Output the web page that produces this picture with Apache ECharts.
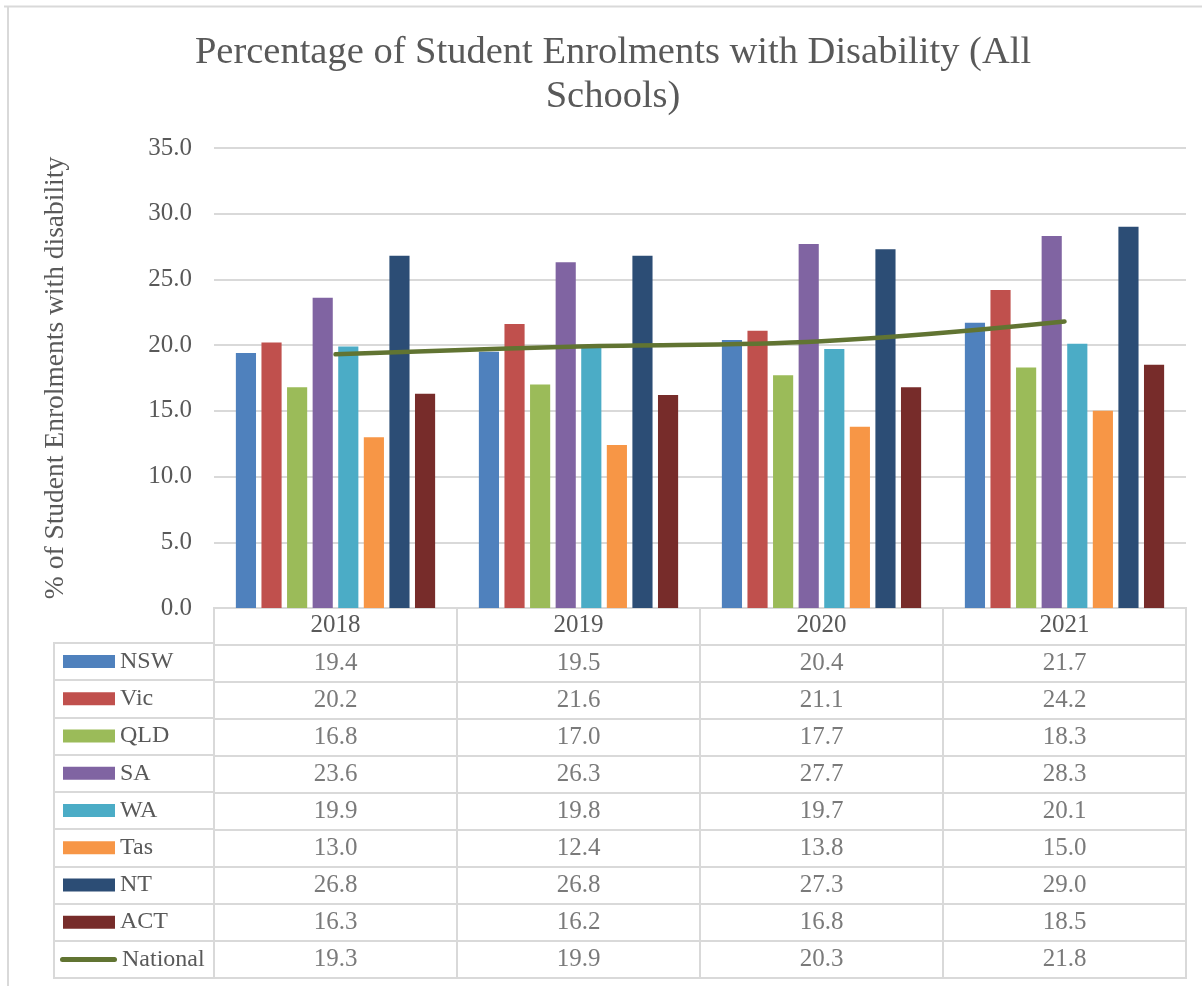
<!DOCTYPE html>
<html>
<head>
<meta charset="utf-8">
<script src="https://cdn.jsdelivr.net/npm/echarts@6/dist/echarts.min.js"></script>
<style>
html,body{margin:0;padding:0;background:#fff;}
#chart{width:1202px;height:986px;}
</style>
</head>
<body>
<div id="chart"></div>
<script>
const years = ['2018', '2019', '2020', '2021'];
const seriesNames = ['NSW', 'Vic', 'QLD', 'SA', 'WA', 'Tas', 'NT', 'ACT', 'National'];
const NSW = [19.4, 19.5, 20.4, 21.7];
const Vic = [20.2, 21.6, 21.1, 24.2];
const QLD = [16.8, 17.0, 17.7, 18.3];
const SA = [23.6, 26.3, 27.7, 28.3];
const WA = [19.9, 19.8, 19.7, 20.1];
const Tas = [13.0, 12.4, 13.8, 15.0];
const NT = [26.8, 26.8, 27.3, 29.0];
const ACT = [16.3, 16.2, 16.8, 18.5];
const National = [19.3, 19.9, 20.3, 21.8];
const yTicks = [0, 5, 10, 15, 20, 25, 30, 35];

const values = [NSW, Vic, QLD, SA, WA, Tas, NT, ACT, National];
const colors = ['#4f81bd', '#c0504d', '#9bbb59', '#8064a2', '#4bacc6', '#f79646', '#2c4d75', '#772c2a', '#617432'];
const FONT = 'Liberation Serif';
const TXT = '#595959';
const LINE = '#d9d9d9';

const chart = echarts.init(document.getElementById('chart'));

const series = [];
for (let i = 0; i < 8; i++) {
  series.push({
    name: seriesNames[i], type: 'bar', xAxisIndex: 0, yAxisIndex: 0,
    data: values[i], itemStyle: { color: colors[i] },
    barGap: '27%', barCategoryGap: '18%', silent: true
  });
}
series.push({
  name: 'National', type: 'line', xAxisIndex: 0, yAxisIndex: 0,
  data: National, smooth: 0.4, showSymbol: false, symbol: 'none',
  lineStyle: { color: colors[8], width: 4.5, cap: 'round' }, silent: true, z: 5
});

// table cells
const cellData = [];
for (let r = 0; r < 9; r++) {
  for (let c = 0; c < years.length; c++) {
    cellData.push([years[c], seriesNames[r], values[r][c]]);
  }
}
series.push({
  type: 'scatter', xAxisIndex: 1, yAxisIndex: 1, data: cellData,
  symbolSize: 1, itemStyle: { color: 'rgba(0,0,0,0)' }, silent: true,
  label: {
    show: true, position: 'inside', color: TXT, fontFamily: FONT, fontSize: 25,
    formatter: p => p.value[2].toFixed(1)
  }
});

const rich = { n: { fontFamily: FONT, fontSize: 24, color: TXT, padding: [0, 0, 0, 5] }, s: { width: 3 } };
seriesNames.forEach((n, i) => {
  if (i < 8) {
    rich['k' + i] = { width: 52, height: 13, backgroundColor: colors[i] };
  } else {
    rich['k' + i] = { width: 57, height: 5, backgroundColor: colors[i], borderRadius: 3 };
  }
});

const option = {
  animation: false,
  backgroundColor: '#fff',
  title: {
    text: 'Percentage of Student Enrolments with Disability (All\nSchools)',
    left: 608, top: 26, textAlign: 'center',
    textStyle: { fontFamily: FONT, fontSize: 38.5, fontWeight: 'normal', color: TXT, lineHeight: 44 }
  },
  grid: [
    { left: 214, right: 16, top: 148, bottom: 378 },
    { left: 214, right: 16, top: 608, bottom: 8, show: true, borderColor: LINE, borderWidth: 2 },
    { left: 54, width: 160, top: 643, bottom: 8, show: true, borderColor: LINE, borderWidth: 2 }
  ],
  xAxis: [
    {
      type: 'category', gridIndex: 0, data: years,
      axisLine: { show: false }, axisTick: { show: false },
      axisLabel: { fontFamily: FONT, fontSize: 25, color: TXT, margin: 5 }
    },
    {
      type: 'category', gridIndex: 1, data: years,
      axisLine: { show: false }, axisTick: { show: false }, axisLabel: { show: false },
      splitLine: { show: true, interval: 0, lineStyle: { color: LINE, width: 2 } }
    },
    {
      type: 'value', gridIndex: 2, min: 0, max: 1, show: false
    }
  ],
  yAxis: [
    {
      type: 'value', gridIndex: 0, min: 0, max: 35, interval: 5,
      axisLine: { show: false }, axisTick: { show: false },
      axisLabel: { fontFamily: FONT, fontSize: 25, color: TXT, margin: 22, formatter: v => v.toFixed(1) },
      splitLine: { lineStyle: { color: LINE, width: 2 } },
      name: '% of Student Enrolments with disability', nameLocation: 'middle', nameGap: 144, nameRotate: 90,
      nameTextStyle: { fontFamily: FONT, fontSize: 27.5, color: TXT }
    },
    {
      type: 'category', gridIndex: 1, data: [''].concat(seriesNames), inverse: true,
      axisLine: { show: false }, axisTick: { show: false }, axisLabel: { show: false },
      splitLine: { show: true, interval: 0, lineStyle: { color: LINE, width: 2 } }
    },
    {
      type: 'category', gridIndex: 2, data: seriesNames, inverse: true,
      axisLine: { show: false }, axisTick: { show: false },
      axisLabel: {
        inside: true, margin: 6, align: 'left',
        formatter: (v, i) => (i < 8 ? '{s|}' : '') + '{k' + i + '|}{n|' + v + '}',
        rich: rich
      },
      splitLine: { show: true, interval: 0, lineStyle: { color: LINE, width: 2 } }
    }
  ],
  graphic: [
    { type: 'line', shape: { x1: 4, y1: 6.5, x2: 1202, y2: 6.5 }, style: { stroke: LINE, lineWidth: 2 }, silent: true },
    { type: 'line', shape: { x1: 8, y1: 6, x2: 8, y2: 986 }, style: { stroke: LINE, lineWidth: 2 }, silent: true }
  ],
  series: series
};
chart.setOption(option);
</script>
</body>
</html>
